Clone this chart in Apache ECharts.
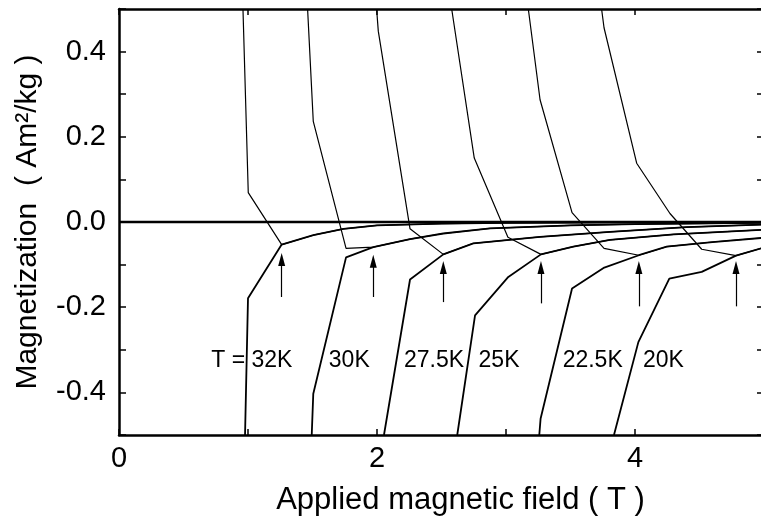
<!DOCTYPE html>
<html>
<head>
<meta charset="utf-8">
<script src="https://cdn.jsdelivr.net/npm/echarts@6/dist/echarts.min.js"></script>
<style>
  html, body { margin: 0; padding: 0; background: #fff; }
  #chart { width: 761px; height: 529px; }
</style>
</head>
<body>
<div id="chart"></div>
<script>
// temperatures, one hysteresis pair per temperature
var temps = ["T = 32K", "30K", "27.5K", "25K", "22.5K", "20K"];

// branch coming down from positive magnetization (field, M)
var up32 = [[0.961, 0.5], [1.002, 0.069], [1.261, -0.053]];
var up30 = [[1.462, 0.5], [1.506, 0.236], [1.76, -0.062], [1.971, -0.059]];
var up275 = [[1.997, 0.5], [2.01, 0.448], [2.256, -0.016], [2.514, -0.076]];
var up25 = [[2.579, 0.5], [2.754, 0.15], [3.015, -0.036], [3.271, -0.076]];
var up225 = [[3.173, 0.5], [3.264, 0.287], [3.512, 0.022], [3.76, -0.062], [4.03, -0.078]];
var up20 = [[3.741, 0.5], [3.76, 0.456], [4.013, 0.138], [4.271, 0.02], [4.517, -0.064], [4.783, -0.079]];

// branch coming up from negative magnetization
var low32 = [[0.977, -0.5], [1.0, -0.179], [1.261, -0.053]];
var low30 = [[1.494, -0.5], [1.506, -0.403], [1.76, -0.083], [1.971, -0.059]];
var low275 = [[2.054, -0.5], [2.256, -0.135], [2.514, -0.076]];
var low25 = [[2.622, -0.5], [2.76, -0.219], [3.018, -0.129], [3.271, -0.076]];
var low225 = [[3.258, -0.5], [3.268, -0.462], [3.512, -0.156], [3.762, -0.107], [4.03, -0.078]];
var low20 = [[3.837, -0.5], [4.026, -0.282], [4.266, -0.133], [4.517, -0.117], [4.783, -0.079]];

// common tail after the arrow point, approaching zero
var tail32 = [[1.506, -0.031], [1.74, -0.016], [2.0, -0.008], [2.5, -0.004], [3.0, -0.002], [4.0, -0.001], [5.0, 0.0]];
var tail30 = [[2.256, -0.04], [2.514, -0.027], [2.876, -0.015], [3.5, -0.008], [4.0, -0.005], [5.0, -0.002]];
var tail275 = [[2.747, -0.05], [3.264, -0.035], [3.806, -0.023], [4.4, -0.012], [5.0, -0.006]];
var tail25 = [[3.522, -0.058], [3.806, -0.042], [4.3, -0.029], [5.0, -0.018]];
var tail225 = [[4.245, -0.058], [4.6, -0.047], [5.0, -0.037]];
var tail20 = [[5.0, -0.06]];

// arrows marking the kink points
var arrowX = [1.261, 1.971, 2.514, 3.271, 4.03, 4.783];
var arrowTip = [-0.074, -0.078, -0.093, -0.093, -0.093, -0.093];
var arrowBase = [-0.176, -0.176, -0.188, -0.191, -0.198, -0.198];

// temperature label positions
var labelX = [1.03, 1.785, 2.442, 2.946, 3.672, 4.22];
var labelY = [-0.325, -0.325, -0.325, -0.325, -0.325, -0.325];

var uppers = [up32, up30, up275, up25, up225, up20];
var lowers = [low32, low30, low275, low25, low225, low20];
var tails = [tail32, tail30, tail275, tail25, tail225, tail20];

var font = "'Liberation Sans', Arial, Helvetica, sans-serif";

var chartDom = document.getElementById("chart");
var myChart = echarts.init(chartDom);

var series = [];
for (var i = 0; i < temps.length; i++) {
  series.push({
    type: "line",
    data: uppers[i].concat(tails[i]),
    symbol: "none",
    lineStyle: { color: "#000", width: 1.2 },
    silent: true,
  });
  series.push({
    type: "line",
    data: lowers[i].concat(tails[i]),
    symbol: "none",
    lineStyle: { color: "#000", width: 1.8 },
    silent: true,
  });
}

// zero line
series.push({
  type: "line",
  data: [[0, 0], [5, 0]],
  symbol: "none",
  lineStyle: { color: "#000", width: 2.6 },
  silent: true,
});

// arrows
var arrowLines = [];
for (var j = 0; j < arrowX.length; j++) {
  arrowLines.push([
    { coord: [arrowX[j], arrowBase[j]], symbol: "none" },
    { coord: [arrowX[j], arrowTip[j] - 0.014], symbol: "triangle" },
  ]);
}
series.push({
  type: "line",
  data: [],
  markLine: {
    silent: true,
    animation: false,
    symbolSize: [7, 13],
    label: { show: false },
    lineStyle: { color: "#000", width: 1.2, type: "solid" },
    data: arrowLines,
  },
});

// temperature labels
var labelData = [];
for (var k = 0; k < temps.length; k++) {
  labelData.push({ value: [labelX[k], labelY[k]], name: temps[k] });
}
series.push({
  type: "scatter",
  data: labelData,
  symbolSize: 0,
  silent: true,
  itemStyle: { opacity: 1, color: "#000" },
  label: {
    show: true,
    position: "inside",
    formatter: "{b}",
    color: "#000",
    opacity: 1,
    textBorderWidth: 0,
    fontSize: 23,
    fontFamily: font,
  },
});

var option = {
  animation: false,
  backgroundColor: "#fff",
  grid: {
    left: 119,
    top: 9,
    width: 645,
    height: 426,
    containLabel: false,
    outerBoundsMode: "none",
  },
  xAxis: [
    {
      type: "value",
      min: 0,
      max: 5,
      interval: 1,
      name: "Applied magnetic field ( T )",
      nameLocation: "middle",
      nameGap: 50,
      nameTextStyle: { color: "#000", fontSize: 31, fontFamily: font, padding: [0, 0, 0, 38] },
      axisLine: { onZero: false, lineStyle: { color: "#000", width: 2.5 } },
      axisTick: { inside: true, length: 6, lineStyle: { color: "#000", width: 1.5 } },
      axisLabel: {
        color: "#000",
        fontSize: 29,
        fontFamily: font,
        margin: 9,
        formatter: function (v) {
          return v % 2 === 0 ? String(v) : "";
        },
      },
      splitLine: { show: false },
    },
    {
      type: "value",
      position: "top",
      min: 0,
      max: 5,
      interval: 1,
      axisLine: { onZero: false, lineStyle: { color: "#000", width: 2.5 } },
      axisTick: { inside: true, length: 6, lineStyle: { color: "#000", width: 1.5 } },
      axisLabel: { show: false },
      splitLine: { show: false },
    },
  ],
  yAxis: [
    {
      type: "value",
      min: -0.5,
      max: 0.5,
      interval: 0.1,
      name: "Magnetization  ( Am\u00b2/kg )",
      nameLocation: "middle",
      nameGap: 76,
      nameTextStyle: { color: "#000", fontSize: 30, fontFamily: font },
      axisLine: { onZero: false, lineStyle: { color: "#000", width: 2.5 } },
      axisTick: { inside: true, length: 7, lineStyle: { color: "#000", width: 1.5 } },
      axisLabel: {
        color: "#000",
        fontSize: 29,
        fontFamily: font,
        margin: 13,
        formatter: function (v) {
          var t = Math.round(v * 10);
          if (Math.abs(t) % 2 !== 0 || Math.abs(t) > 4) return "";
          return (t / 10).toFixed(1);
        },
      },
      splitLine: { show: false },
    },
    {
      type: "value",
      position: "right",
      min: -0.5,
      max: 0.5,
      interval: 0.1,
      axisLine: { onZero: false, lineStyle: { color: "#000", width: 2.5 } },
      axisTick: { inside: true, length: 7, lineStyle: { color: "#000", width: 1.5 } },
      axisLabel: { show: false },
      splitLine: { show: false },
    },
  ],
  series: series,
};

option && myChart.setOption(option);
</script>
</body>
</html>
